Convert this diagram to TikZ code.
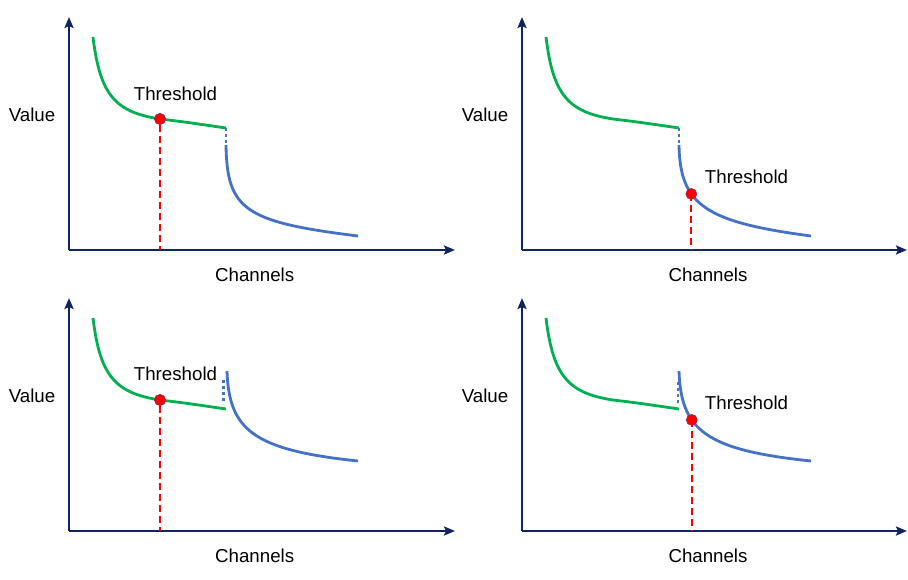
\documentclass[tikz,border=0pt]{standalone}
\usepackage{fontspec}
\setmainfont{Liberation Sans}
\usetikzlibrary{arrows.meta}
\definecolor{axiscol}{RGB}{16,36,98}
\definecolor{greencol}{RGB}{0,176,80}
\definecolor{bluecol}{RGB}{68,114,196}
\definecolor{redcol}{RGB}{255,0,0}
\definecolor{dotedge}{RGB}{150,40,90}
\tikzset{
  axisline/.style={draw=axiscol, line width=2.7pt, -{Stealth[length=11pt,width=9pt,inset=2pt]}},
  greenline/.style={draw=greencol, line width=2.8pt},
  blueline/.style={draw=bluecol, line width=2.8pt},
  bluedots/.style={draw=bluecol, line width=2.8pt, dash pattern=on 3pt off 3pt},
  reddash/.style={draw=redcol, line width=2.2pt, dash pattern=on 7pt off 4pt},
  threshdot/.style={circle, fill=redcol, draw=dotedge, line width=0.6pt, minimum size=11pt, inner sep=0pt},
  lbl/.style={font=\fontsize{18.7}{22}\selectfont, inner sep=0pt, text=black}
}
\begin{document}
\begin{tikzpicture}[x=1pt,y=-1pt]
\useasboundingbox (0,0) rectangle (908,580);
\fill[white] (0,0) rectangle (908,580);

% ---------- top-left ----------
\coordinate (o1) at (69,250);
\coordinate (y1) at (69,17);
\coordinate (x1) at (455,250);
\draw[axisline] (o1) -- (y1);
\draw[axisline] (o1) -- (x1);
\node[lbl] (v1) at (32,115) {Value};
\node[lbl] (c1) at (254.7,275) {Channels};
\coordinate (g1s) at (93,37);
\coordinate (g1e) at (226,128);
\coordinate (b1s) at (226,145);
\coordinate (b1e) at (358,236);
\draw[greenline] (g1s) .. controls (100,95) and (115,112) .. (160,119) .. controls (185,122) .. (g1e);
\draw[bluedots] (g1e) -- (b1s);
\draw[blueline] (b1s) .. controls (227,210) and (245,222) .. (b1e);
\node[threshdot] (d1) at (160,119) {};
\draw[reddash] (d1.south) -- (d1 |- o1);
\node[threshdot] at (d1) {};
\node[lbl] (t1) at (175.5,94) {Threshold};

% ---------- top-right ----------
\coordinate (o2) at (522,250);
\coordinate (y2) at (522,17);
\coordinate (x2) at (908,250);
\draw[axisline] (o2) -- (y2);
\draw[axisline] (o2) -- ([xshift=-1pt]x2);
\node[lbl] (v2) at (485,115) {Value};
\node[lbl] (c2) at (708,275) {Channels};
\coordinate (g2s) at (546,37);
\coordinate (g2e) at (679,128);
\coordinate (b2s) at (679,145);
\coordinate (b2e) at (811,236);
\draw[greenline] (g2s) .. controls (553,95) and (568,112) .. (613,119) .. controls (638,122) .. (g2e);
\draw[bluedots] (g2e) -- (b2s);
\draw[blueline] (b2s) .. controls (680,205) and (705,222) .. node[pos=0.35, coordinate] (p2) {} (b2e);
\draw[reddash] (p2) -- (p2 |- o2);
\node[threshdot] (d2) at (p2) {};
\node[lbl] (t2) at (746.5,177) {Threshold};

% ---------- bottom-left ----------
\coordinate (o3) at (69,531);
\coordinate (y3) at (69,298);
\coordinate (x3) at (455,531);
\draw[axisline] (o3) -- (y3);
\draw[axisline] (o3) -- (x3);
\node[lbl] (v3) at (32,396) {Value};
\node[lbl] (c3) at (254.7,556) {Channels};
\coordinate (g3s) at (93,318);
\coordinate (g3e) at (226,409);
\coordinate (b3s) at (227,371);
\coordinate (b3e) at (358,461);
\coordinate (q3s) at (223.5,380);
\coordinate (q3e) at (223.5,404);
\draw[greenline] (g3s) .. controls (100,376) and (115,393) .. (160,400) .. controls (185,403) .. (g3e);
\draw[bluedots] (q3s) -- (q3e);
\draw[blueline] (b3s) .. controls (229,430) and (253,450) .. (b3e);
\node[threshdot] (d3) at (160,400) {};
\draw[reddash] (d3.south) -- (d3 |- o3);
\node[threshdot] at (d3) {};
\node[lbl] (t3) at (175.5,374) {Threshold};

% ---------- bottom-right ----------
\coordinate (o4) at (522,531);
\coordinate (y4) at (522,298);
\coordinate (x4) at (908,531);
\draw[axisline] (o4) -- (y4);
\draw[axisline] (o4) -- ([xshift=-1pt]x4);
\node[lbl] (v4) at (485,396) {Value};
\node[lbl] (c4) at (708,556) {Channels};
\coordinate (g4s) at (546,318);
\coordinate (g4e) at (679,409);
\coordinate (b4s) at (679,371);
\coordinate (b4e) at (811,461);
\coordinate (q4s) at (678,382);
\coordinate (q4e) at (678,403);
\draw[greenline] (g4s) .. controls (553,376) and (568,393) .. (613,400) .. controls (638,403) .. (g4e);
\draw[bluedots] (q4s) -- (q4e);
\draw[blueline] (b4s) .. controls (681,430) and (705,450) .. node[pos=0.35, coordinate] (p4) {} (b4e);
\draw[reddash] (p4) -- (p4 |- o4);
\node[threshdot] (d4) at (p4) {};
\node[lbl] (t4) at (746.5,403) {Threshold};
\end{tikzpicture}
\end{document}
